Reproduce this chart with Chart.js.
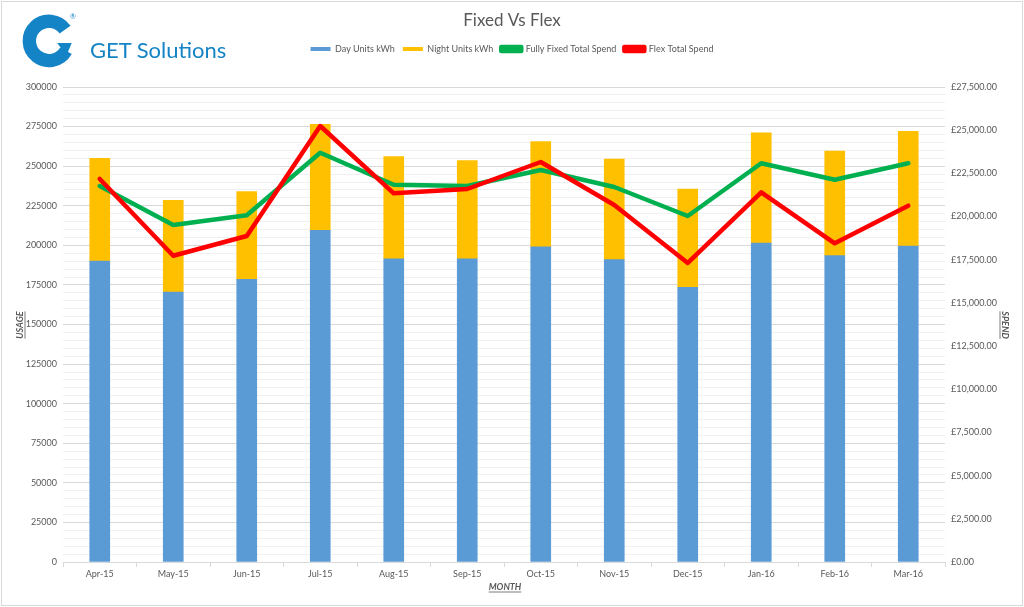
<!DOCTYPE html>
<html><head><meta charset="utf-8">
<script src="https://cdn.jsdelivr.net/npm/chart.js@4.4.1/dist/chart.umd.min.js"></script>
<style>
html,body{margin:0;padding:0;background:#fff;}
#wrap{position:relative;width:1024px;height:607px;overflow:hidden;background:#fff;}
#frame{position:absolute;left:1px;top:1px;width:1020px;height:603px;border:1px solid #d9d9d9;pointer-events:none;}
#logo{position:absolute;left:20px;top:12px;width:62px;height:62px;}
#brand{position:absolute;left:90px;top:36px;font-family:Lato,'Open Sans',sans-serif;font-size:22px;color:#1584c6;white-space:nowrap;}
#reg{position:absolute;left:70px;top:12px;font-family:Lato,sans-serif;font-size:7px;color:#1584c6;}
canvas{position:absolute;left:0;top:0;}
</style></head><body>
<div id="wrap">
<canvas id="c" width="1024" height="607"></canvas>
<svg id="logo" viewBox="0 0 60 60">
  <path d="M 43.6 17.1 A 19 19 0 1 0 44.5 37.5" fill="none" stroke="#1584c6" stroke-width="13"/>
  <polygon points="36,30 50,30 45,42" fill="#1584c6"/>
</svg>
<div id="reg">®</div>
<div id="brand">GET Solutions</div>
<div id="frame"></div>
</div>
<script>
const months = ['Apr-15','May-15','Jun-15','Jul-15','Aug-15','Sep-15','Oct-15','Nov-15','Dec-15','Jan-16','Feb-16','Mar-16'];
const dayUnits = [190000,170500,178500,209500,191500,191500,199000,191000,173500,201500,193500,199500];
const nightUnits = [65000,58000,55500,67000,64500,62000,66500,63500,62000,69500,66000,72500];
const fixedSpend = [21768,19511,20072,23696,21844,21768,22695,21710,20032,23083,22133,23083];
const flexSpend = [22174,17733,18874,25242,21346,21595,23158,20668,17311,21404,18451,20628];
const usageMax = 300000, usageMajor = 25000, usageMinor = 5000;
const spendMax = 27500, spendStep = 2500;

const FONT = "Lato, 'Open Sans', sans-serif";
const GREY = '#595959';

function money(v){
  const s = Math.round(v).toString().replace(/\B(?=(\d{3})+(?!\d))/g, ',');
  return '£' + s + '.00';
}

const axisTitles = {
  id:'axisTitles',
  beforeInit(chart){
    const fit = chart.legend.fit;
    chart.legend.fit = function(){ fit.call(this); this.height = 87 - 36.4; };
  },
  afterDraw(chart){
    const ctx = chart.ctx;
    ctx.save();
    ctx.font = 'italic bold 9px ' + FONT;
    ctx.fillStyle = GREY; ctx.strokeStyle = GREY; ctx.lineWidth = 0.8;
    ctx.textAlign = 'center'; ctx.textBaseline = 'alphabetic';
    function draw(text, x, y, rot){
      ctx.save();
      ctx.translate(x, y); ctx.rotate(rot);
      ctx.fillText(text, 0, 3);
      const w = ctx.measureText(text).width;
      ctx.beginPath(); ctx.moveTo(-w/2, 5); ctx.lineTo(w/2, 5); ctx.stroke();
      ctx.restore();
    }
    draw('USAGE', 20, 325, -Math.PI/2);
    draw('SPEND', 1005, 325, Math.PI/2);
    draw('MONTH', 505, 587, 0);
    ctx.restore();
  }
};

new Chart(document.getElementById('c'), {
  type:'bar',
  data:{
    labels: months,
    datasets:[
      {label:'Day Units kWh', data: dayUnits, backgroundColor:'#5B9BD5', yAxisID:'y', order:2, stack:'u', barThickness:20},
      {label:'Night Units kWh', data: nightUnits, backgroundColor:'#FFC000', yAxisID:'y', order:3, stack:'u', barThickness:20},
      {type:'line', label:'Fully Fixed Total Spend', data: fixedSpend, borderColor:'#00B050', backgroundColor:'#00B050', borderWidth:4.5, pointRadius:0, pointHoverRadius:0, tension:0, yAxisID:'y1', order:1, borderJoinStyle:'round', borderCapStyle:'round'},
      {type:'line', label:'Flex Total Spend', data: flexSpend, borderColor:'#FF0000', backgroundColor:'#FF0000', borderWidth:4.5, pointRadius:0, pointHoverRadius:0, tension:0, yAxisID:'y1', order:0, borderJoinStyle:'round', borderCapStyle:'round'}
    ]
  },
  options:{
    responsive:false, animation:false,
    layout:{padding:0},
    plugins:{
      title:{display:true, text:'Fixed Vs Flex', color:GREY, font:{family:FONT, size:17, weight:'normal'}, padding:{top:10,bottom:6}},
      legend:{display:true, position:'top',
        labels:{boxWidth:20, boxHeight:4, padding:8, color:GREY, font:{family:FONT, size:9},
          sort:(a,b)=>a.datasetIndex-b.datasetIndex}},
      tooltip:{enabled:false}
    },
    scales:{
      x:{stacked:true, offset:true,
        grid:{display:true, drawOnChartArea:false, drawTicks:true, tickLength:5, color:'#d9d9d9', offset:true},
        border:{display:true, color:'#d9d9d9'},
        ticks:{color:GREY, font:{family:FONT, size:9}, padding:2, maxRotation:0, autoSkip:false},
        afterFit(s){ s.height = 45; }
      },
      y:{stacked:true, position:'left', min:0, max:usageMax,
        grid:{drawTicks:false, color:(c)=> (c.tick && c.tick.value % usageMajor === 0) ? '#d9d9d9' : '#f0f0f0'},
        border:{display:false},
        ticks:{stepSize:usageMinor, autoSkip:false, color:GREY, font:{family:FONT, size:9}, padding:6,
          callback:(v)=> v % usageMajor === 0 ? String(v) : ''},
        afterFit(s){ s.width = 63; }
      },
      y1:{stacked:false, position:'right', min:0, max:spendMax,
        grid:{display:false, drawOnChartArea:false, drawTicks:false},
        border:{display:false},
        ticks:{stepSize:spendStep, autoSkip:false, color:GREY, font:{family:FONT, size:9}, padding:6,
          callback:(v)=> money(v)},
        afterFit(s){ s.width = 79; }
      }
    }
  },
  plugins:[axisTitles]
});
</script>
</body></html>
